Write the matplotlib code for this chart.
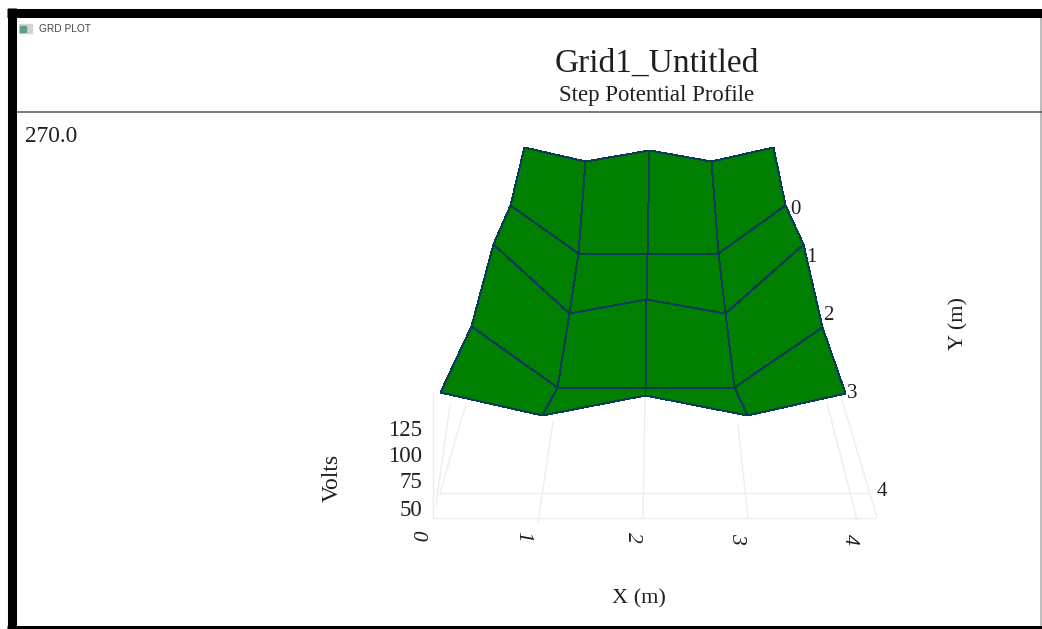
import numpy as np
import matplotlib
matplotlib.use("Agg")
import matplotlib.pyplot as plt

plt.rcParams["font.family"] = ["Liberation Serif", "DejaVu Serif"]

W, H = 1042, 629
GREEN = "#007f00"
EDGE = "#0a3c55"
GRID = "#ececec"
INK = "#1f1f1f"

# surface nodes as seen on the picture, back row first
surf_x = np.array([
    [524, 585, 649, 711, 773],
    [510, 578, 647, 718, 785],
    [493, 569, 646, 725, 803],
    [471, 557, 645, 734, 822],
    [440, 542, 645, 747, 845],
])
surf_y = np.array([
    [147, 161, 150, 161, 147],
    [205, 253, 254, 253, 205],
    [244, 313, 299, 313, 244],
    [326, 387, 388, 387, 327],
    [392, 415, 395, 415, 393],
])

# floor grid, going away from the x axis
floor_x0 = [433, 538, 643, 748, 857, 877]
floor_y0 = [518, 522, 517, 518, 520, 517]
floor_x1 = [433, 553, 645, 738, 827, 842]
floor_y1 = [393, 422, 397, 425, 403, 400]
extra_x0 = [436, 440]
extra_y0 = [505, 493]
extra_x1 = [450, 465]
extra_y1 = [405, 407]

x_ticks = ["0", "1", "2", "3", "4"]
x_tick_x = [417, 523, 632, 737, 849]
x_tick_y = [535, 536, 537, 538, 539]
y_ticks = ["0", "1", "2", "3", "4"]
y_tick_x = [795, 811, 828, 852, 882]
y_tick_y = [210, 258, 316, 393, 492]
z_ticks = ["50", "75", "100", "125"]
z_tick_y = [511, 483, 456, 430]

fig = plt.figure(figsize=(W / 100, H / 100), dpi=100, facecolor="white")
ax = fig.add_axes([0, 0, 1, 1])
ax.set_xlim(0, W)
ax.set_ylim(H, 0)
ax.axis("off")

# window frame, open towards the right edge
ax.plot([7, W], [12.5, 12.5], color="black", lw=6.5, solid_capstyle="butt", zorder=5)
ax.plot([11.5, 11.5], [8, H], color="black", lw=6.5, solid_capstyle="butt", zorder=5)
ax.plot([7, W], [627.5, 627.5], color="black", lw=3.6, solid_capstyle="butt", zorder=5)
ax.plot([1041, 1041], [17, 625], color="#aaaaaa", lw=1.1)
ax.plot([16, W], [112, 112], color="#555555", lw=1.1)

# window icon
ax.fill([19, 32, 32, 19], [24, 24, 33, 33], color="#c9d6d4")
ax.fill([20, 26, 26, 20], [26, 26, 32, 32], color="#5f9c8a")
ax.text(39, 29, "GRD PLOT", fontsize=7.3, family="Liberation Sans", color="#444444", va="center")

ax.text(657, 64, "Grid1_Untitled", fontsize=24, ha="center", va="center", color=INK)
ax.text(657, 96, "Step Potential Profile", fontsize=16.4, ha="center", va="center", color=INK)
ax.text(25, 137, "270.0", fontsize=16.8, va="center", color=INK)

# floor
ax.plot([433, 875], [518, 518], color=GRID, lw=0.9)
ax.plot([440, 868], [493, 493], color=GRID, lw=0.9)
for i in range(len(floor_x0)):
    ax.plot([floor_x0[i], floor_x1[i]], [floor_y0[i], floor_y1[i]], color=GRID, lw=0.9)
for i in range(len(extra_x0)):
    ax.plot([extra_x0[i], extra_x1[i]], [extra_y0[i], extra_y1[i]], color=GRID, lw=0.9)

# surface
ax.pcolormesh(surf_x, surf_y, np.zeros((4, 4)), cmap=matplotlib.colors.ListedColormap([GREEN]),
              edgecolors=EDGE, linewidth=0.7, shading="flat", zorder=3)

for i in range(len(x_ticks)):
    ax.text(x_tick_x[i], x_tick_y[i], x_ticks[i], fontsize=15.5, rotation=-90, style="italic",
            ha="center", va="center", color=INK)
for i in range(len(y_ticks)):
    ax.text(y_tick_x[i], y_tick_y[i], y_ticks[i], fontsize=15, ha="center", va="center",
            color=INK, zorder=4)
for i in range(len(z_ticks)):
    ax.text(422, z_tick_y[i], z_ticks[i], fontsize=16.5, ha="right", va="center", color=INK)

ax.text(639, 599, "X (m)", fontsize=16, ha="center", va="center", color=INK)
ax.text(959, 324, "Y (m)", fontsize=16, rotation=90, ha="center", va="center", color=INK)
ax.text(332, 478, "Volts", fontsize=17, rotation=90, ha="center", va="center", color=INK)

fig.savefig("out.png", dpi=100)
